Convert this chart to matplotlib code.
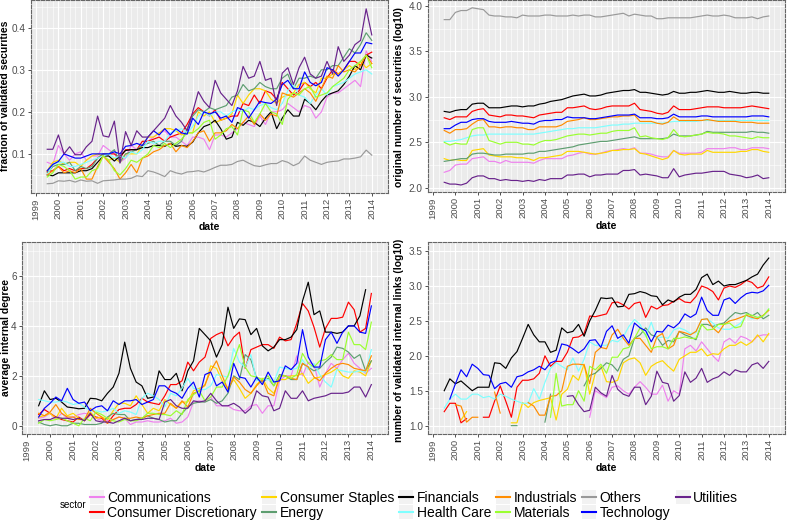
import numpy as np
import matplotlib
matplotlib.use("Agg")
from matplotlib import pyplot as plt
from matplotlib.ticker import MultipleLocator
from matplotlib.legend_handler import HandlerLine2D
from matplotlib.patches import Rectangle

plt.rcParams['font.family'] = ['Liberation Sans', 'DejaVu Sans']

nan = float('nan')

# quarterly dates, 1999 Q3 .. 2014 Q1
dates = 1999.5 + 0.25 * np.arange(59)
years = list(range(1999, 2015))

sectors = ['Communications', 'Consumer Discretionary', 'Consumer Staples', 'Energy',
           'Financials', 'Health Care', 'Industrials', 'Materials', 'Others',
           'Technology', 'Utilities']
colors = ['#EE82EE', '#FF0000', '#FFD700', '#5E9E70', '#000000', '#7FFFFF',
          '#FF8C00', '#9AFF30', '#999999', '#0000FF', '#68228B']

# ---- fraction of validated securities ----
frac_comm = [.080, .075,
             .120, .100, .085, .100, .105, .085, .095, .095, .120, .110, .100, .080,
             .090, .120, .110, .120, .130, .140, .150, .155, .140, .140, .130, .120,
             .140, .140, .135, .110, .145, .145, .140, .150, .160, .175, .170, .165,
             .190, .170, .200, .200, .205, .220, .210, .200, .215, .210, .185, .200,
             .235, .245, .245, .255, .265, .275, .260, .345,
             .320]
frac_disc = [.058, .060,
             .070, .060, .065, .060, .065, .065, .075, .090, .100, .100, .100, .090,
             .110, .110, .110, .130, .130, .135, .140, .130, .140, .145, .150, .170,
             .195, .210, .200, .190, .205, .180, .185, .190, .190, .220, .215, .240,
             .220, .250, .245, .230, .270, .255, .240, .250, .270, .260, .270, .255,
             .280, .300, .290, .300, .320, .320, .310, .335,
             .342]
frac_stap = [.060, .080,
             .085, .075, .080, .080, .070, .085, .095, .100, .095, .085, .090, .080,
             .100, .100, .100, .120, .140, .140, .150, .160, .160, .155, .145, .150,
             .150, .200, .190, .200, .175, .180, .185, .195, .240, .220, .240, .255,
             .255, .250, .230, .220, .235, .240, .245, .265, .270, .255, .245, .280,
             .280, .290, .290, .300, .310, .300, .320, .305,
             .315]
frac_ener = [.055, .070,
             .075, .075, .080, .060, .070, .065, .070, .090, .100, .100, .110, .080,
             .100, .105, .110, .120, .125, .130, .120, .130, .130, .120, .130, .160,
             .190, .205, .200, .210, .205, .210, .215, .235, .240, .265, .250, .255,
             .270, .260, .255, .255, .280, .290, .255, .280, .280, .285, .280, .300,
             .300, .310, .310, .330, .350, .340, .360, .388,
             .370]
frac_fin = [.050, .048,
            .055, .055, .055, .055, .060, .060, .065, .080, .095, .095, .083, .095,
            .108, .110, .110, .115, .115, .120, .120, .118, .125, .118, .120, .118,
            .128, .150, .165, .170, .180, .160, .135, .140, .175, .168, .180, .175,
            .165, .185, .200, .160, .185, .205, .190, .190, .230, .220, .205, .225,
            .240, .245, .250, .265, .285, .310, .300, .335,
            .328]
frac_hc = [.050, .075,
           .080, .080, .070, .070, .075, .080, .085, .090, .095, .100, .090, .095,
           .090, .105, .100, .110, .130, .125, .130, .130, .150, .155, .160, .150,
           .165, .190, .200, .190, .200, .200, .190, .200, .205, .200, .210, .205,
           .215, .220, .210, .205, .220, .250, .265, .240, .235, .220, .240, .255,
           .240, .260, .265, .270, .280, .290, .295, .300,
           .290]
frac_ind = [.050, .060,
            .070, .055, .060, .055, .065, .040, .040, .070, .095, .080, .065, .040,
            .055, .075, .055, .090, .095, .105, .110, .120, .125, .105, .120, .115,
            .130, .150, .155, .130, .150, .150, .155, .170, .160, .175, .190, .170,
            .195, .180, .195, .190, .245, .240, .235, .245, .255, .245, .225, .255,
            .285, .280, .310, .295, .300, .295, .310, .335,
            .315]
frac_mat = [.045, .055,
            .075, .070, .060, .040, .045, .045, .060, .065, .095, .085, .060, .050,
            .065, .085, .080, .090, .100, .120, .115, .125, .115, .125, .135, .150,
            .150, .160, .175, .180, .135, .145, .160, .165, .145, .205, .200, .175,
            .195, .220, .200, .195, .170, .230, .245, .240, .255, .260, .235, .240,
            .245, .260, .270, .280, .300, .310, .320, .335,
            .305]
frac_oth = [.029, .030,
            .036, .035, .037, .033, .038, .035, .036, .030, .036, .037, .038, .040,
            .040, .042, .048, .046, .060, .057, .052, .046, .060, .055, .052, .057,
            .058, .060, .057, .062, .068, .073, .073, .075, .082, .085, .078, .072,
            .070, .074, .077, .077, .084, .080, .072, .078, .095, .085, .080, .075,
            .080, .082, .083, .088, .088, .090, .093, .109,
            .097]
frac_tech = [.060, .075,
             .082, .100, .095, .090, .090, .095, .100, .100, .100, .100, .105, .100,
             .118, .120, .125, .120, .140, .155, .145, .160, .145, .160, .150, .147,
             .185, .170, .200, .195, .200, .185, .190, .175, .210, .205, .185, .205,
             .225, .222, .220, .230, .265, .275, .255, .255, .295, .270, .262, .270,
             .305, .300, .285, .300, .320, .340, .340, .365,
             .362]
frac_util = [.111, .111,
             .145, .100, .117, .098, .098, .117, .130, .190, .143, .140, .178, .078,
             .153, .120, .155, .140, .140, .155, .170, .185, .215, .190, .175, .155,
             .200, .248, .225, .210, .275, .245, .230, .215, .250, .308, .280, .285,
             .320, .275, .280, .215, .292, .305, .265, .305, .330, .290, .280, .285,
             .320, .290, .355, .320, .335, .360, .370, .445,
             .383]

# ---- original number of securities (log10) ----
orig_comm = [2.17, 2.19,
             2.25, 2.26, 2.26, 2.32, 2.33, 2.34, 2.29, 2.29, 2.27, 2.30, 2.28, 2.28,
             2.28, 2.28, 2.27, 2.30, 2.32, 2.32, 2.32, 2.32, 2.35, 2.36, 2.38, 2.39,
             2.37, 2.37, 2.38, 2.40, 2.41, 2.42, 2.43, 2.42, 2.44, 2.38, 2.38, 2.37,
             2.35, 2.34, 2.34, 2.41, 2.38, 2.38, 2.38, 2.38, 2.39, 2.43, 2.43, 2.43,
             2.43, 2.44, 2.44, 2.42, 2.42, 2.44, 2.44, 2.44,
             2.43]
orig_disc = [2.77, 2.75,
             2.78, 2.78, 2.78, 2.84, 2.86, 2.87, 2.80, 2.79, 2.78, 2.80, 2.80, 2.79,
             2.79, 2.78, 2.77, 2.80, 2.81, 2.82, 2.83, 2.83, 2.88, 2.88, 2.89, 2.90,
             2.87, 2.86, 2.87, 2.89, 2.90, 2.90, 2.90, 2.90, 2.93, 2.86, 2.85, 2.84,
             2.82, 2.81, 2.83, 2.90, 2.86, 2.86, 2.86, 2.87, 2.88, 2.89, 2.89, 2.89,
             2.88, 2.88, 2.88, 2.88, 2.89, 2.90, 2.89, 2.88,
             2.87]
orig_stap = [2.32, 2.30,
             2.31, 2.30, 2.30, 2.41, 2.42, 2.43, 2.36, 2.35, 2.34, 2.34, 2.34, 2.33,
             2.33, 2.32, 2.30, 2.33, 2.33, 2.34, 2.35, 2.36, 2.40, 2.40, 2.40, 2.39,
             2.38, 2.37, 2.38, 2.39, 2.41, 2.41, 2.42, 2.42, 2.43, 2.38, 2.37, 2.35,
             2.33, 2.31, 2.33, 2.41, 2.37, 2.36, 2.37, 2.37, 2.37, 2.41, 2.39, 2.39,
             2.39, 2.39, 2.39, 2.40, 2.40, 2.42, 2.42, 2.40,
             2.39]
orig_ener = [2.29, 2.30,
             2.31, 2.32, 2.32, 2.37, 2.38, 2.38, 2.37, 2.36, 2.36, 2.37, 2.37, 2.37,
             2.37, 2.38, 2.38, 2.40, 2.40, 2.41, 2.42, 2.43, 2.44, 2.45, 2.47, 2.48,
             2.49, 2.50, 2.51, 2.51, 2.52, 2.53, 2.54, 2.55, 2.56, 2.54, 2.54, 2.54,
             2.54, 2.54, 2.55, 2.59, 2.57, 2.57, 2.57, 2.58, 2.59, 2.62, 2.61, 2.61,
             2.61, 2.61, 2.61, 2.61, 2.61, 2.62, 2.61, 2.61,
             2.60]
orig_fin = [2.84, 2.83,
            2.85, 2.86, 2.86, 2.92, 2.93, 2.93, 2.88, 2.88, 2.88, 2.89, 2.90, 2.90,
            2.89, 2.90, 2.90, 2.92, 2.93, 2.95, 2.96, 2.97, 2.99, 3.01, 3.02, 3.03,
            3.01, 3.01, 3.02, 3.04, 3.05, 3.06, 3.07, 3.07, 3.08, 3.05, 3.05, 3.04,
            3.03, 3.02, 3.03, 3.06, 3.04, 3.04, 3.05, 3.05, 3.06, 3.07, 3.06, 3.05,
            3.05, 3.06, 3.05, 3.04, 3.04, 3.05, 3.05, 3.04,
            3.04]
orig_hc = [2.51, 2.51,
           2.52, 2.53, 2.55, 2.57, 2.58, 2.58, 2.59, 2.59, 2.59, 2.59, 2.59, 2.59,
           2.59, 2.59, 2.59, 2.60, 2.61, 2.62, 2.63, 2.64, 2.65, 2.65, 2.66, 2.66,
           2.66, 2.66, 2.67, 2.68, 2.69, 2.69, 2.70, 2.70, 2.71, 2.71, 2.71, 2.71,
           2.71, 2.71, 2.72, 2.73, 2.73, 2.73, 2.73, 2.73, 2.74, 2.74, 2.74, 2.74,
           2.74, 2.74, 2.74, 2.74, 2.74, 2.74, 2.74, 2.74,
           2.74]
orig_ind = [2.63, 2.60,
            2.64, 2.64, 2.65, 2.70, 2.74, 2.75, 2.67, 2.67, 2.66, 2.67, 2.67, 2.66,
            2.66, 2.64, 2.64, 2.67, 2.67, 2.67, 2.67, 2.69, 2.73, 2.74, 2.75, 2.77,
            2.75, 2.75, 2.76, 2.77, 2.78, 2.78, 2.79, 2.79, 2.80, 2.73, 2.73, 2.73,
            2.71, 2.70, 2.72, 2.78, 2.74, 2.74, 2.74, 2.74, 2.74, 2.75, 2.74, 2.73,
            2.73, 2.73, 2.73, 2.72, 2.72, 2.72, 2.71, 2.71,
            2.71]
orig_mat = [2.50, 2.47,
            2.49, 2.48, 2.48, 2.64, 2.66, 2.66, 2.52, 2.50, 2.48, 2.50, 2.50, 2.50,
            2.48, 2.48, 2.47, 2.50, 2.52, 2.52, 2.53, 2.55, 2.57, 2.58, 2.59, 2.59,
            2.58, 2.59, 2.60, 2.60, 2.62, 2.63, 2.63, 2.63, 2.66, 2.56, 2.57, 2.55,
            2.54, 2.53, 2.55, 2.64, 2.57, 2.56, 2.57, 2.58, 2.59, 2.61, 2.60, 2.60,
            2.59, 2.57, 2.57, 2.56, 2.55, 2.54, 2.56, 2.55,
            2.55]
orig_oth = [3.85, 3.85,
            3.93, 3.95, 3.95, 3.98, 3.97, 3.96, 3.90, 3.89, 3.89, 3.88, 3.88, 3.87,
            3.90, 3.89, 3.89, 3.89, 3.90, 3.90, 3.89, 3.89, 3.89, 3.90, 3.89, 3.90,
            3.90, 3.88, 3.88, 3.89, 3.90, 3.91, 3.92, 3.89, 3.91, 3.90, 3.89, 3.89,
            3.86, 3.86, 3.87, 3.87, 3.87, 3.87, 3.87, 3.88, 3.89, 3.90, 3.89, 3.89,
            3.90, 3.89, 3.87, 3.87, 3.87, 3.88, 3.86, 3.88,
            3.89]
orig_tech = [2.65, 2.65,
             2.69, 2.72, 2.72, 2.75, 2.76, 2.76, 2.73, 2.72, 2.72, 2.72, 2.73, 2.72,
             2.71, 2.71, 2.70, 2.73, 2.74, 2.74, 2.75, 2.75, 2.78, 2.77, 2.77, 2.77,
             2.76, 2.76, 2.77, 2.78, 2.79, 2.80, 2.80, 2.80, 2.81, 2.77, 2.77, 2.77,
             2.76, 2.76, 2.77, 2.81, 2.78, 2.78, 2.78, 2.78, 2.79, 2.79, 2.78, 2.78,
             2.78, 2.78, 2.78, 2.78, 2.78, 2.79, 2.79, 2.79,
             2.78]
orig_util = [2.06, 2.04,
             2.04, 2.03, 2.05, 2.11, 2.13, 2.13, 2.10, 2.10, 2.08, 2.09, 2.08, 2.08,
             2.07, 2.08, 2.07, 2.09, 2.08, 2.10, 2.10, 2.10, 2.14, 2.14, 2.15, 2.15,
             2.12, 2.14, 2.14, 2.15, 2.15, 2.15, 2.19, 2.19, 2.20, 2.14, 2.15, 2.14,
             2.13, 2.11, 2.11, 2.21, 2.12, 2.14, 2.15, 2.16, 2.16, 2.17, 2.18, 2.18,
             2.18, 2.15, 2.14, 2.13, 2.11, 2.12, 2.14, 2.10,
             2.11]

# ---- average internal degree ----
deg_comm = [0.30, 0.35,
            0.50, 0.25, 0.50, 0.30, 0.35, 0.45, 0.50, 0.45, 0.30, 0.20, 0.20, 0.25,
            0.35, 0.30, 0.05, 0.15, 0.15, 0.20, 0.15, 0.15, 0.20, 0.30, 0.10, 0.15,
            0.35, 0.95, 1.00, 0.95, 1.15, 0.80, 0.80, 0.80, 0.65, 0.60, 0.60, 0.80,
            0.85, 0.50, 0.80, 0.80, 1.80, 2.00, 2.00, 2.80, 2.00, 2.55, 2.45, 1.55,
            2.10, 2.50, 2.30, 2.65, 2.90, 2.50, 2.30, 2.10,
            2.30]
deg_disc = [0.45, 0.65,
            0.50, 0.35, 0.25, 0.20, 0.15, 0.35, 0.20, 0.45, 0.35, 0.30, 0.10, 0.40,
            0.65, 0.70, 0.70, 0.85, 1.10, 0.95, 0.90, 0.85, 1.20, 1.65, 1.65, 1.80,
            2.55, 2.20, 2.55, 2.75, 3.50, 3.65, 3.75, 3.20, 3.55, 3.75, 2.30, 3.05,
            3.15, 3.25, 3.25, 3.10, 3.55, 3.40, 3.45, 4.10, 4.90, 4.60, 3.95, 3.15,
            3.90, 4.30, 4.30, 4.35, 4.95, 4.65, 3.75, 3.90,
            5.30]
deg_stap = [0.35, 0.40,
            0.50, 0.30, 0.70, 0.40, 0.50, 0.30, 0.20, 0.55, 0.30, 0.35, 0.25, 0.60,
            0.90, 0.90, 0.80, 1.20, 0.85, 0.50, 0.70, 0.60, 1.05, 0.85, 0.70, 0.95,
            0.95, 1.40, 1.50, 1.60, 2.40, 2.30, 1.80, 1.50, 1.85, 1.50, 1.10, 1.30,
            1.65, 1.90, 1.50, 1.30, 1.85, 1.85, 2.00, 2.00, 2.10, 1.70, 1.90, 1.95,
            2.05, 2.15, 2.30, 2.00, 1.90, 2.20, 2.15, 2.00,
            2.60]
deg_ener = [0.15, 0.05,
            0.00, 0.05, 0.00, 0.00, 0.10, 0.10, 0.05, 0.05, 0.05, 0.10, 0.35, 0.50,
            0.45, 0.45, 0.20, 0.25, 0.30, 0.40, 0.30, 0.25, 0.15, 0.20, 0.20, 0.50,
            0.75, 0.90, 0.95, 0.95, 1.05, 0.90, 1.00, 1.30, 2.00, 1.85, 2.85, 2.65,
            1.90, 1.75, 1.90, 1.60, 2.05, 2.00, 1.85, 1.85, 2.50, 2.35, 2.20, 2.30,
            2.55, 2.75, 3.15, 3.10, 2.95, 2.70, 2.85, 2.20,
            2.60]
deg_fin = [0.80, 1.40,
           1.05, 1.10, 0.95, 0.75, 0.72, 0.68, 0.70, 1.10, 1.08, 1.00, 1.30, 1.55,
           2.10, 3.35, 2.30, 1.75, 1.60, 1.10, 1.15, 2.20, 1.85, 1.85, 2.10, 1.40,
           2.20, 2.60, 3.90, 3.65, 3.40, 2.75, 3.25, 4.75, 3.90, 4.28, 4.25, 3.65,
           3.90, 3.20, 3.00, 3.15, 3.45, 3.45, 3.55, 3.85, 5.00, 5.75, 4.45, 4.60,
           3.75, 3.75, 3.70, 3.75, 4.00, 4.00, 4.40, 5.45,
           nan]
deg_hc = [1.05, 1.00,
          0.95, 0.95, 1.00, 0.95, 0.85, 0.90, 0.75, 0.60, 0.60, 0.55, 0.60, 0.70,
          0.50, 0.60, 0.55, 0.45, 1.10, 1.30, 1.20, 1.05, 0.75, 1.30, 1.20, 1.50,
          1.90, 1.50, 1.45, 1.45, 1.60, 2.05, 2.00, 1.95, 3.10, 2.55, 2.35, 2.85,
          1.80, 1.85, 1.85, 1.75, 2.35, 2.30, 2.25, 2.30, 2.65, 2.25, 2.50, 2.05,
          1.75, 1.55, 2.25, 2.20, 2.15, 2.15, 2.20, 2.15,
          3.05]
deg_ind = [0.50, 0.40,
           0.55, 0.85, 0.50, 0.35, 0.35, 0.25, 0.25, 0.70, 0.50, 0.35, 0.10, 0.25,
           0.35, 0.30, 0.30, 0.35, 0.30, 0.40, 0.45, 0.50, 0.50, 0.90, 0.70, 1.00,
           0.75, 1.30, 1.40, 1.65, 2.20, 2.60, 2.00, 1.45, 1.95, 1.75, 1.45, 1.30,
           1.60, 1.85, 1.30, 1.20, 2.00, 2.00, 1.90, 1.85, 2.50, 2.35, 1.95, 1.80,
           2.10, 2.30, 2.45, 2.50, 2.45, 2.30, 2.25, 2.20,
           2.80]
deg_mat = [0.10, 0.25,
           0.20, 0.25, 0.30, 0.20, 0.10, 0.00, 0.30, 0.20, 0.55, 0.45, 0.30, 0.20,
           0.15, 0.25, 0.20, 0.20, 0.30, 0.50, 0.50, 0.45, 0.45, 0.40, 0.60, 0.45,
           1.05, 1.25, 1.40, 1.00, 1.15, 1.55, 1.55, 2.00, 2.60, 3.25, 2.35, 2.00,
           1.95, 1.85, 2.00, 1.60, 2.00, 2.00, 1.90, 2.05, 2.90, 2.50, 2.35, 2.60,
           2.65, 2.85, 2.65, 2.65, 3.75, 3.25, 3.25, 3.05,
           4.15]
deg_tech = [0.35, 0.70,
            0.90, 1.15, 1.00, 1.50, 1.05, 0.90, 0.95, 0.60, 0.75, 0.80, 0.60, 1.00,
            0.85, 1.00, 1.00, 1.05, 0.85, 0.95, 1.05, 1.60, 1.60, 1.40, 1.30, 1.10,
            1.50, 1.75, 1.15, 2.05, 2.15, 1.60, 1.75, 1.35, 2.50, 1.95, 1.90, 1.55,
            1.95, 1.65, 2.15, 1.75, 1.80, 2.40, 2.25, 2.50, 3.85, 2.75, 2.35, 2.35,
            3.45, 3.75, 3.30, 3.75, 4.00, 4.00, 3.75, 3.70,
            4.80]
deg_util = [0.20, 0.25,
            0.25, 0.35, 0.30, 0.30, 0.25, 0.30, 0.20, 0.50, 0.20, 0.15, 0.15, 0.10,
            0.20, 0.30, 0.20, 0.25, 0.25, 0.30, 0.30, 0.25, 0.95, 1.05, 0.80, 0.70,
            0.70, 1.00, 0.95, 1.00, 1.30, 1.00, 0.80, 0.80, 0.90, 0.75, 0.50, 0.70,
            1.40, 1.20, 1.15, 0.60, 0.70, 1.40, 1.10, 1.10, 1.40, 1.00, 1.10, 1.15,
            1.20, 1.30, 1.30, 1.30, 1.35, 1.55, 1.55, 1.15,
            1.65]

# ---- number of validated internal links (log10) ----
links_comm = [nan] * 26 + [
    1.12, 1.50, 1.45, 1.40, 1.55, 1.57, 1.50, 1.45, 1.55, 1.63, 1.55, 1.45,
    1.45, 1.58, 1.35, 1.50, 1.45, 2.10, 2.15, 2.07, 2.20, 2.10, 2.00, 1.92,
    2.20, 2.25, 2.18, 2.28, 2.25, 2.20, 2.28, 2.30,
    2.30]
links_disc = [1.20, 1.32,
              1.32, 1.04, 1.10, nan, nan, 1.12, 1.12, 1.35, 1.57, 1.35, 1.12, 1.55,
              1.65, 1.65, 1.67, 1.75, 2.00, 1.85, 1.92, 1.92, 2.05, 2.26, 2.27, 2.32,
              2.57, 2.56, 2.58, 2.60, 2.76, 2.77, 2.73, 2.67, 2.75, 2.77, 2.55, 2.71,
              2.67, 2.72, 2.73, 2.78, 2.82, 2.77, 2.76, 2.85, 3.00, 2.97, 2.92, 2.80,
              2.97, 3.00, 2.98, 3.02, 3.08, 3.05, 2.97, 3.00,
              3.13]
links_stap = [nan, nan,
              nan, 1.08, 1.20, nan, nan, nan, nan, nan, nan, nan, 1.04, 1.04,
              1.33, 1.26, 1.33, 1.36, 1.38, 1.40, 1.08, 1.45, 1.52, 1.72, 1.65, 1.88,
              1.45, 1.75, 1.85, 1.63, 1.62, 1.65, 1.90, 1.95, 1.97, 1.90, 1.72, 1.85,
              1.90, 1.93, 1.85, 1.78, 1.95, 2.00, 2.05, 2.05, 2.10, 2.00, 2.03, 2.02,
              2.10, 2.15, 2.15, 2.20, 2.15, 2.20, 2.30, 2.20,
              2.32]
links_ener = [nan] * 12 + [1.00, 1.00] + [nan] * 4 + [1.05, 1.45] + [nan] * 5 + [
    1.57, 1.72, 1.75, 1.82, 1.90, 1.87, 1.78, 1.95, 2.00, 2.25, 2.30, 2.40, 2.30,
    2.27, 2.15, 2.22, 2.20, 2.35, 2.30, 2.27, 2.23, 2.45, 2.45, 2.42, 2.45,
    2.47, 2.55, 2.62, 2.60, 2.62, 2.57, 2.62, 2.53,
    2.58]
links_fin = [1.50, 1.67,
             1.60, 1.64, 1.57, 1.50, 1.55, 1.55, 1.55, 1.90, 1.89, 1.82, 1.97, 2.06,
             2.25, 2.45, 2.30, 2.20, 2.20, 2.05, 2.08, 2.40, 2.33, 2.35, 2.45, 2.28,
             2.50, 2.65, 2.83, 2.82, 2.83, 2.70, 2.71, 2.88, 2.89, 2.92, 2.90, 2.86,
             2.85, 2.73, 2.80, 2.77, 2.84, 2.88, 2.88, 2.95, 3.12, 3.17, 3.02, 3.07,
             3.00, 3.02, 3.02, 3.05, 3.08, 3.13, 3.17, 3.30,
             3.40]
links_hc = [1.25, 1.38,
            1.45, 1.38, 1.38, 1.45, 1.45, 1.40, 1.42, 1.38, 1.45, 1.42, 1.38, 1.35,
            1.32, 1.32, 1.53, 1.38, 1.62, 1.82, 1.90, 1.85, 1.80, 1.97, 1.78, 1.95,
            2.20, 2.15, 2.15, 2.15, 2.22, 2.20, 2.27, 2.42, 2.52, 2.45, 2.28, 2.48,
            2.25, 2.27, 2.25, 2.37, 2.40, 2.37, 2.32, 2.33, 2.52, 2.53, 2.47, 2.40,
            2.38, 2.38, 2.42, 2.47, 2.58, 2.53, 2.55, 2.57,
            2.67]
links_ind = [nan, nan,
             1.30, 1.28, 1.05, 1.12, 1.12, nan, nan, 1.48, 1.18, nan, nan, nan,
             nan, 1.33, 1.28, 1.15, 1.15, 1.42, 1.43, 1.50, 1.85, 1.88, 1.88, 1.87,
             1.60, 2.05, 2.12, 2.10, 2.30, 2.38, 2.25, 2.15, 2.25, 2.25, 2.15, 2.05,
             2.27, 2.32, 2.10, 2.15, 2.35, 2.33, 2.30, 2.35, 2.52, 2.53, 2.40, 2.33,
             2.45, 2.50, 2.52, 2.55, 2.58, 2.55, 2.53, 2.58,
             2.65]
links_mat = [nan] * 19 + [
    1.12, 1.75, 1.28, 1.30, 1.30, 1.50, 1.35,
    1.85, 1.80, 1.88, 1.75, 1.98, 1.98, 2.10, 2.12, 2.25, 2.40, 2.30, 2.10,
    2.13, 2.13, 2.10, 2.25, 2.25, 2.27, 2.25, 2.25, 2.45, 2.37, 2.38, 2.45,
    2.45, 2.47, 2.40, 2.42, 2.60, 2.58, 2.55, 2.57,
    2.67]
links_tech = [nan, 1.38,
              1.60, 1.80, 1.70, 1.88, 1.82, 1.73, 1.72, 1.53, 1.60, 1.62, 1.55, 1.70,
              1.72, 1.77, 1.80, 1.85, 1.80, 1.90, 1.93, 2.17, 2.15, 2.10, 2.04, 2.10,
              2.22, 2.23, 2.12, 2.35, 2.43, 2.25, 2.30, 2.18, 2.47, 2.40, 2.36, 2.20,
              2.35, 2.34, 2.44, 2.40, 2.47, 2.60, 2.55, 2.60, 2.84, 2.65, 2.58, 2.58,
              2.80, 2.83, 2.75, 2.83, 2.89, 2.91, 2.90, 2.93,
              3.01]
links_util = [nan] * 22 + [
    1.42, 1.43, 1.30, 1.20,
    1.22, 1.55, 1.47, 1.42, 1.72, 1.52, 1.45, 1.42, 1.55, 1.55, 1.30, 1.42,
    1.78, 1.62, 1.60, 1.35, 1.43, 1.77, 1.62, 1.68, 1.82, 1.62, 1.67, 1.70,
    1.77, 1.72, 1.80, 1.77, 1.77, 1.87, 1.90, 1.82,
    1.92]

frac = [frac_comm, frac_disc, frac_stap, frac_ener, frac_fin, frac_hc,
        frac_ind, frac_mat, frac_oth, frac_tech, frac_util]
orig = [orig_comm, orig_disc, orig_stap, orig_ener, orig_fin, orig_hc,
        orig_ind, orig_mat, orig_oth, orig_tech, orig_util]
deg = [deg_comm, deg_disc, deg_stap, deg_ener, deg_fin, deg_hc,
       deg_ind, deg_mat, None, deg_tech, deg_util]
links = [links_comm, links_disc, links_stap, links_ener, links_fin, links_hc,
         links_ind, links_mat, None, links_tech, links_util]

W, H = 787, 523
fig = plt.figure(figsize=(W / 100, H / 100), dpi=100)


def px_axes(left, top, right, bottom):
    return fig.add_axes([left / W, 1 - bottom / H, (right - left) / W, (bottom - top) / H])


def style(ax, ylabel, lab_xy, ylim, yticks, yminor, fmt):
    ax.set_facecolor('#EBEBEB')
    ax.set_xlim(1998.775, 2014.725)
    ax.set_ylim(*ylim)
    ax.set_xticks(years)
    ax.set_xticklabels([str(y) for y in years], rotation=90, fontsize=6.8, color='#4D4D4D')
    ax.xaxis.set_minor_locator(MultipleLocator(0.25))
    ax.set_yticks(yticks)
    ax.set_yticklabels([fmt.format(v) for v in yticks], fontsize=7.2, color='#4D4D4D')
    ax.yaxis.set_minor_locator(MultipleLocator(yminor))
    ax.grid(which='major', color='white', linewidth=0.8)
    ax.grid(which='minor', color='white', linewidth=0.4)
    ax.set_axisbelow(True)
    ax.tick_params(which='major', length=2.5, width=0.6, color='#333333', pad=1.2)
    ax.tick_params(which='minor', length=0)
    for s in ax.spines.values():
        s.set_color('#666666')
        s.set_linewidth(0.8)
        s.set_linestyle((0, (3, 1.5)))
    ax.set_xlabel('date', fontsize=7.5, fontweight='bold', labelpad=2)
    # y label placed by pixel centre, as in the reference
    fig.text(lab_xy[0] / W, 1 - lab_xy[1] / H, ylabel, rotation=90, ha='center',
             va='center', fontsize=7.5, fontweight='bold')


def draw(ax, series):
    handles = []
    for name, col, vals in zip(sectors, colors, series):
        if vals is None:
            h, = ax.plot([], [], color=col, lw=1.0, label=name)
        else:
            h, = ax.plot(dates, vals, color=col, lw=0.85, label=name)
        handles.append(h)
    return handles


class KeyHandler(HandlerLine2D):
    # legend key with the light grey box behind the line, ggplot style
    def create_artists(self, legend, orig_handle, xdescent, ydescent,
                       width, height, fontsize, trans):
        arts = list(super().create_artists(legend, orig_handle, xdescent, ydescent,
                                           width, height, fontsize, trans))
        for a in arts:
            a.set_linewidth(1.5)
            a.set_color(orig_handle.get_color())
        box = Rectangle((-xdescent, -ydescent - 0.2 * height), width, 1.4 * height,
                        facecolor='#F2F2F2', edgecolor='none', transform=trans)
        return [box] + arts


ax1 = px_axes(31, 0, 388, 193)
handles = draw(ax1, frac)
style(ax1, 'fraction of validated securities', (5, 96), (0.007, 0.466),
      [0.1, 0.2, 0.3, 0.4], 0.05, '{:.1f}')

ax2 = px_axes(428, 0, 785, 192)
draw(ax2, orig)
style(ax2, 'original number of securities (log10)', (399, 97), (1.953, 4.066),
      [2.0, 2.5, 3.0, 3.5, 4.0], 0.25, '{:.1f}')

ax3 = px_axes(22, 242, 388, 434)
draw(ax3, deg)
style(ax3, 'average internal degree', (6, 338), (-0.33, 7.36), [0, 2, 4, 6], 1, '{:d}')

ax4 = px_axes(428, 242, 785, 434)
draw(ax4, links)
style(ax4, 'number of validated internal links (log10)', (399, 340), (0.88, 3.63),
      [1.0, 1.5, 2.0, 2.5, 3.0, 3.5], 0.25, '{:.1f}')

leg = fig.legend(handles=handles, labels=sectors, ncol=6, loc='lower left',
                 bbox_to_anchor=(90 / W, 3 / H), frameon=False, fontsize=10,
                 handlelength=1.0, handletextpad=0.25, columnspacing=0.38,
                 labelspacing=0.1, borderaxespad=0, borderpad=0,
                 handler_map={plt.Line2D: KeyHandler()})
fig.text(86 / W, 1 - 505 / H, 'sector', fontsize=7, ha='right', va='center')

fig.savefig('out.png', dpi=100)
